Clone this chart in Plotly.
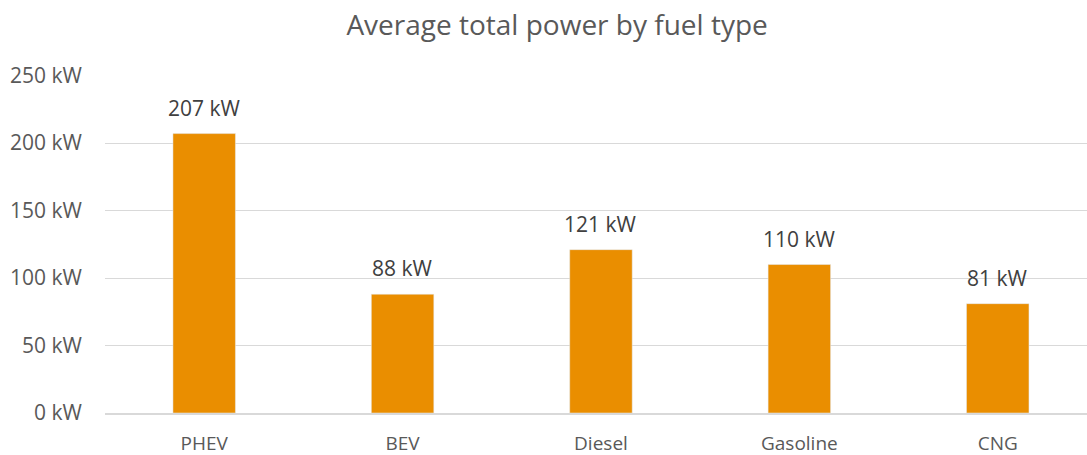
import plotly.graph_objects as go

categories = ["PHEV", "BEV", "Diesel", "Gasoline", "CNG"]
values = [207, 88, 121, 110, 81]
tick_vals = [0, 50, 100, 150, 200, 250]
tick_text = [f"{v} kW" for v in tick_vals]

bar_color = "#EA8E00"
font_family = "Open Sans, sans-serif"

fig = go.Figure()
fig.add_trace(go.Bar(
    x=categories, y=values, marker_color=bar_color, width=0.315,
    hoverinfo="x+y",
))

for c, v in zip(categories, values):
    fig.add_annotation(x=c, y=v, text=f"{v} kW", showarrow=False,
                       yanchor="bottom", yshift=10,
                       font=dict(family=font_family, size=21, color="#404040"))

fig.update_layout(
    width=1087, height=455,
    margin=dict(l=105, r=0, t=75, b=41.5),
    paper_bgcolor="white", plot_bgcolor="white",
    title=dict(text="Average total power by fuel type", x=0.5125, xanchor="center",
               y=0.945, yanchor="middle",
               font=dict(family=font_family, size=28, color="#595959")),
    showlegend=False,
)
fig.update_xaxes(range=[-0.5, 4.45], showgrid=False, showline=True,
                 linecolor="#d9d9d9", linewidth=1.5, ticks="",
                 tickfont=dict(family=font_family, size=19, color="#595959"),
                 ticklabelstandoff=12, automargin=False)
fig.update_yaxes(range=[0, 250.4], tickvals=tick_vals, ticktext=tick_text,
                 showgrid=True, gridcolor="#d9d9d9", gridwidth=1,
                 zeroline=False, showline=False, ticks="",
                 tickfont=dict(family=font_family, size=21, color="#595959"),
                 ticklabelstandoff=22, automargin=False)

fig.write_html("out.html", config={"displayModeBar": False},
               post_script="document.body.style.margin='0';")
